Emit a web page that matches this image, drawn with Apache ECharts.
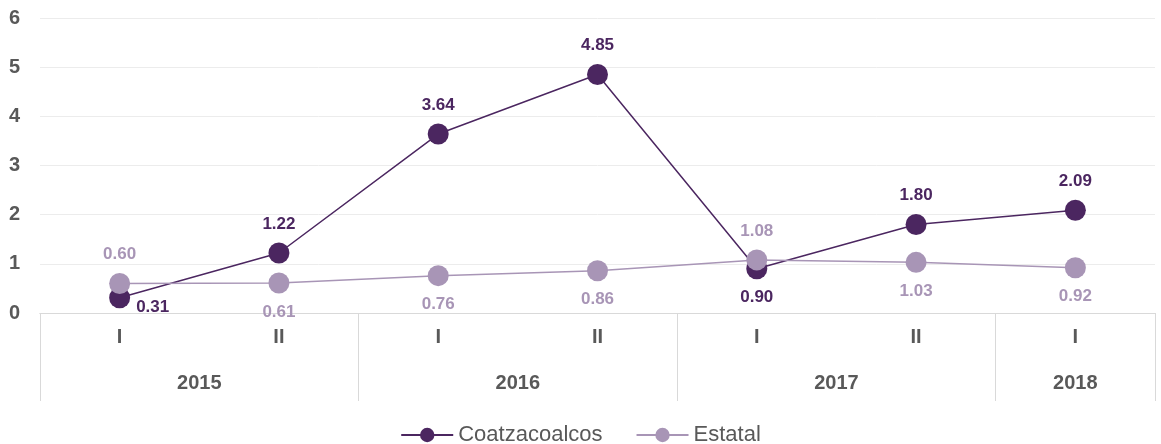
<!DOCTYPE html>
<html>
<head>
    <meta charset="utf-8">
    <script src="https://cdn.jsdelivr.net/npm/echarts@6/dist/echarts.min.js"></script>
</head>
<body style="margin:0">
<div id="main" style="width: 1161px; height:444px"></div>
<script type="text/javascript">

    var periods = ['I', 'II', 'I', 'II', 'I', 'II', 'I'];
    var years = ['2015', '2016', '2017', '2018'];
    var yearSpans = [2, 2, 2, 1];
    var coatzacoalcos = [0.31, 1.22, 3.64, 4.85, 0.90, 1.80, 2.09];
    var estatal = [0.60, 0.61, 0.76, 0.86, 1.08, 1.03, 0.92];

    // year axis: half-slot positions, label at group centre, tick at group edges
    var yearCats = [], yearLabelIdx = {}, yearTickIdx = {0: true};
    var pos = 0;
    for (var i = 0; i < years.length; i++) {
        var w = yearSpans[i] * 2;
        yearLabelIdx[pos + w / 2] = true;
        pos += w;
        yearTickIdx[pos] = true;
    }
    for (var k = 0; k <= pos; k++) {
        yearCats.push('');
    }
    pos = 0;
    for (var i = 0; i < years.length; i++) {
        yearCats[pos + yearSpans[i]] = years[i];
        pos += yearSpans[i] * 2;
    }

    var darkPos = ['right', 'top', 'top', 'top', 'bottom', 'top', 'top'];
    var lightPos = ['top', 'bottom', 'bottom', 'bottom', 'top', 'bottom', 'bottom'];

    function withLabels(values, places) {
        return values.map(function (v, i) {
            var lbl = {position: places[i]};
            if (places[i] === 'right') {
                lbl.distance = 6;
                lbl.offset = [0, 10];
            }
            return {value: v, label: lbl};
        });
    }

    var gray = '#595959';
    var font = 'Liberation Sans';
    var myChart = echarts.init(document.getElementById('main'));
    var option = {
        animation: false,
        color: ['#4b2660', '#a895b6'],
        grid: {left: 40, right: 6, top: 18, bottom: 131},
        legend: {
            top: 419, left: 'center',
            itemWidth: 52, itemHeight: 18, itemGap: 33,
            textStyle: {color: gray, fontSize: 22, fontFamily: font},
            data: ['Coatzacoalcos', 'Estatal']
        },
        xAxis: [{
            type: 'category', data: periods, position: 'bottom',
            axisLine: {lineStyle: {color: '#d9d9d9'}},
            axisTick: {show: false},
            axisLabel: {color: gray, fontSize: 20, fontWeight: 'bold', margin: 14, fontFamily: font}
        }, {
            type: 'category', data: yearCats, position: 'bottom', boundaryGap: false,
            axisLine: {lineStyle: {color: '#d9d9d9'}},
            axisTick: {
                show: true, length: 88, lineStyle: {color: '#d9d9d9'},
                interval: function (idx) { return !!yearTickIdx[idx]; }
            },
            axisLabel: {
                color: gray, fontSize: 20, fontWeight: 'bold', margin: 60, fontFamily: font,
                interval: function (idx) { return !!yearLabelIdx[idx]; }
            }
        }],
        yAxis: {
            type: 'value', min: 0, max: 6, interval: 1,
            axisLine: {show: false}, axisTick: {show: false},
            splitLine: {lineStyle: {color: '#ececec'}},
            axisLabel: {color: gray, fontSize: 20, fontWeight: 'bold', margin: 20, fontFamily: font}
        },
        series: [{
            name: 'Coatzacoalcos', type: 'line', xAxisIndex: 0,
            symbol: 'circle', symbolSize: 21,
            lineStyle: {width: 1.5},
            label: {
                show: true, distance: 10, color: '#4b2660', fontSize: 17, fontWeight: 'bold',
                fontFamily: font,
                formatter: function (p) { return p.value.toFixed(2); }
            },
            data: withLabels(coatzacoalcos, darkPos)
        }, {
            name: 'Estatal', type: 'line', xAxisIndex: 0,
            symbol: 'circle', symbolSize: 21,
            lineStyle: {width: 1.5},
            label: {
                show: true, distance: 10, color: '#a895b6', fontSize: 17, fontWeight: 'bold',
                fontFamily: font,
                formatter: function (p) { return p.value.toFixed(2); }
            },
            data: withLabels(estatal, lightPos)
        }]
    };
    myChart.setOption(option);
</script>
</body>
</html>
